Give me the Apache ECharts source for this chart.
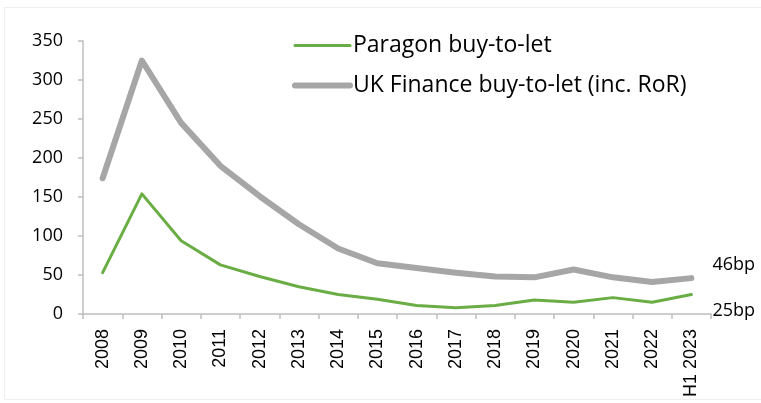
<!DOCTYPE html>
<html><head><meta charset="utf-8">
<script src="https://cdn.jsdelivr.net/npm/echarts@6/dist/echarts.min.js"></script>
<style>html,body{margin:0;padding:0;background:#fff}#c{width:761px;height:403px}</style>
</head><body><div id="c"></div>
<script>
const categories = ['2008','2009','2010','2011','2012','2013','2014','2015','2016','2017','2018','2019','2020','2021','2022','H1 2023'];
const paragon = [53,154,94,63,48,35,25,19,11,8,11,18,15,21,15,25];
const ukFinance = [174,325,245,190,151,115,84,65,59,53,48,47,57,47,41,46];
const yTicks = {min:0, max:350, interval:50};
const seriesNames = ['Paragon buy-to-let','UK Finance buy-to-let (inc. RoR)'];

const chart = echarts.init(document.getElementById('c'));
const axisGray = '#bfbfbf';
const green = '#6aad45', gray = '#a6a6a6';
chart.setOption({
  animation:false,
  graphic:[{type:'rect', shape:{x:4.5,y:7.5,width:800,height:392}, style:{fill:'none', stroke:'#efefef', lineWidth:1}, silent:true}],
  grid:{left:83, right:50, top:41, bottom:89},
  legend:{
    orient:'vertical', left:287, top:29, itemWidth:55, itemHeight:24, itemGap:17,
    textStyle:{fontFamily:'Open Sans', fontSize:23, color:'#000', padding:[0,0,0,-2]},
    data:[
      {name:seriesNames[0], itemStyle:{opacity:0}, lineStyle:{width:3, color:green, cap:'round'}},
      {name:seriesNames[1], itemStyle:{opacity:0}, lineStyle:{width:6, color:gray, cap:'round'}}
    ]
  },
  xAxis:{
    type:'category', data:categories, boundaryGap:true,
    axisLine:{lineStyle:{color:axisGray, width:1.5}},
    axisTick:{show:true, length:5, lineStyle:{color:axisGray, width:1.5}},
    axisLabel:{rotate:90, interval:0, margin:15, fontFamily:'Liberation Sans', fontSize:18, color:'#000'}
  },
  yAxis:{
    type:'value', min:yTicks.min, max:yTicks.max, interval:yTicks.interval,
    splitLine:{show:false},
    axisLine:{show:true, lineStyle:{color:axisGray, width:1.5}},
    axisTick:{show:true, length:5, lineStyle:{color:axisGray, width:1.5}},
    axisLabel:{margin:20, fontFamily:'Open Sans', fontSize:18, color:'#000'}
  },
  series:[
    {name:seriesNames[0], type:'line', data:paragon, symbol:'none', z:3,
     lineStyle:{color:green, width:3, cap:'round', join:'round'}, itemStyle:{color:green},
     endLabel:{show:true, formatter:p=>p.value+'bp', offset:[13,16], fontFamily:'Open Sans', fontSize:18, color:'#000'}},
    {name:seriesNames[1], type:'line', data:ukFinance, symbol:'none', z:2,
     lineStyle:{color:gray, width:6, cap:'round', join:'round'}, itemStyle:{color:gray},
     endLabel:{show:true, formatter:p=>p.value+'bp', offset:[13,-13], fontFamily:'Open Sans', fontSize:18, color:'#000'}}
  ]
});
</script></body></html>
